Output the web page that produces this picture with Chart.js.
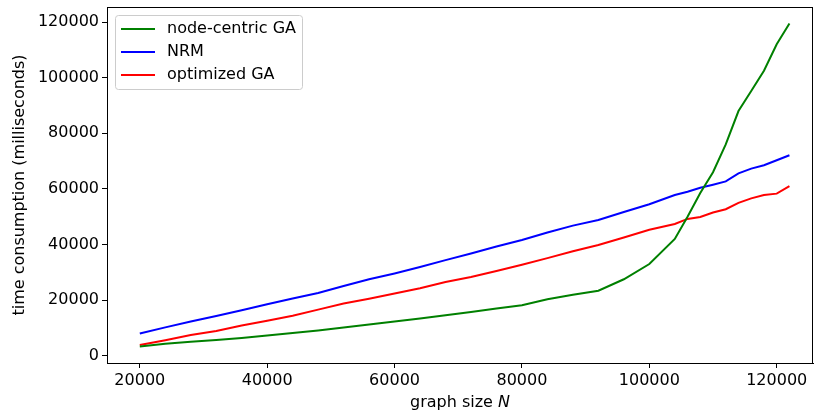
<!DOCTYPE html>
<html>
<head>
<meta charset="utf-8">
<script src="https://cdn.jsdelivr.net/npm/chart.js@4"></script>
<style>
  html, body { margin: 0; padding: 0; background: #fff; }
  #wrap { width: 814px; height: 413px; }
</style>
</head>
<body>
<div id="wrap"><canvas id="chart" width="814" height="413"></canvas></div>
<script>
// graph sizes N
const sizes = [20000, 24000, 28000, 32000, 36000, 40000, 44000, 48000, 52000, 56000,
  60000, 64000, 68000, 72000, 76000, 80000, 84000, 88000, 92000, 96000, 100000,
  104000, 106000, 108000, 110000, 112000, 114000, 116000, 118000, 120000, 122000];

const nodeCentricGA = [3300, 4300, 5000, 5700, 6400, 7300, 8200, 9100, 10200, 11200,
  12300, 13400, 14600, 15700, 17000, 18200, 20300, 21900, 23400, 27500, 33000,
  42000, 50000, 58500, 66000, 76000, 88000, 95200, 102500, 112000, 119500];

const nrm = [8000, 10200, 12300, 14300, 16400, 18500, 20600, 22600, 25100, 27500,
  29600, 31900, 34400, 36800, 39300, 41600, 44300, 46800, 48800, 51700, 54500,
  57800, 59000, 60400, 61500, 62700, 65600, 67300, 68500, 70300, 72100];

const optimizedGA = [3900, 5600, 7500, 8900, 10900, 12600, 14400, 16600, 18800, 20500,
  22400, 24300, 26500, 28300, 30500, 32700, 35100, 37600, 39800, 42500, 45300,
  47400, 49200, 49900, 51500, 52700, 55000, 56600, 57800, 58300, 61000];

const xTicks = [20000, 40000, 60000, 80000, 100000, 120000];
const yTicks = [0, 20000, 40000, 60000, 80000, 100000, 120000];

const FONT = 'DejaVu Sans';
const FS = 16;

function pts(ys) {
  return sizes.map((x, i) => ({ x: x, y: ys[i] }));
}

// top/right spines, legend box inside the plot, x title with italic N
const extras = {
  id: 'extras',
  afterDraw(chart) {
    const ctx = chart.ctx;
    const a = chart.chartArea;
    ctx.save();
    ctx.strokeStyle = '#000';
    ctx.lineWidth = 1;
    ctx.strokeRect(a.left + 0.5, a.top + 0.5, a.right - a.left - 1, a.bottom - a.top);

    // legend
    const lx = a.left + 8, ly = a.top + 8, lw = 187, lh = 74;
    ctx.fillStyle = 'rgba(255,255,255,0.8)';
    ctx.strokeStyle = '#cccccc';
    ctx.beginPath();
    ctx.roundRect(lx + 0.5, ly + 0.5, lw, lh, 3);
    ctx.fill();
    ctx.stroke();
    ctx.font = FS + 'px "' + FONT + '"';
    ctx.textBaseline = 'middle';
    chart.data.datasets.forEach((ds, i) => {
      const y = ly + 14 + i * 23;
      ctx.strokeStyle = ds.borderColor;
      ctx.lineWidth = 2;
      ctx.beginPath();
      ctx.moveTo(lx + 6, y);
      ctx.lineTo(lx + 40, y);
      ctx.stroke();
      ctx.fillStyle = '#000';
      ctx.fillText(ds.label, lx + 52, y);
    });

    // x axis title
    const t1 = 'graph size ';
    ctx.font = FS + 'px "' + FONT + '"';
    const w1 = ctx.measureText(t1).width;
    ctx.font = 'italic ' + FS + 'px "' + FONT + '"';
    const w2 = ctx.measureText('N').width;
    const cx = (a.left + a.right) / 2;
    let x0 = cx - (w1 + w2) / 2;
    ctx.fillStyle = '#000';
    ctx.textBaseline = 'middle';
    ctx.textAlign = 'left';
    ctx.font = FS + 'px "' + FONT + '"';
    ctx.fillText(t1, x0, 403);
    ctx.font = 'italic ' + FS + 'px "' + FONT + '"';
    ctx.fillText('N', x0 + w1, 403);
    ctx.restore();
  }
};

new Chart(document.getElementById('chart').getContext('2d'), {
  type: 'line',
  data: {
    datasets: [
      { label: 'node-centric GA', data: pts(nodeCentricGA), borderColor: '#008000', backgroundColor: '#008000' },
      { label: 'NRM', data: pts(nrm), borderColor: '#0000ff', backgroundColor: '#0000ff' },
      { label: 'optimized GA', data: pts(optimizedGA), borderColor: '#ff0000', backgroundColor: '#ff0000' }
    ]
  },
  options: {
    responsive: false,
    animation: false,
    layout: { padding: { left: 0, top: 7, right: 1, bottom: 0 } },
    elements: {
      point: { radius: 0, hoverRadius: 0 },
      line: { borderWidth: 2, tension: 0 }
    },
    plugins: {
      legend: { display: false },
      tooltip: { enabled: false }
    },
    scales: {
      x: {
        type: 'linear',
        min: 14850,
        max: 125700,
        afterFit: (s) => { s.height = 50; s.paddingLeft = 0; s.paddingRight = 0; },
        afterBuildTicks: (s) => { s.ticks = xTicks.map(v => ({ value: v })); },
        grid: { drawOnChartArea: false, drawTicks: true, tickLength: 5, color: '#000' },
        border: { display: true, color: '#000', width: 1 },
        ticks: {
          color: '#000', padding: 3, maxRotation: 0,
          font: { family: FONT, size: FS },
          callback: (v) => String(v)
        }
      },
      y: {
        type: 'linear',
        min: -2600,
        max: 125400,
        afterFit: (s) => { s.width = 107; s.paddingTop = 0; s.paddingBottom = 0; },
        afterBuildTicks: (s) => { s.ticks = yTicks.map(v => ({ value: v })); },
        grid: { drawOnChartArea: false, drawTicks: true, tickLength: 5, color: '#000' },
        border: { display: true, color: '#000', width: 1 },
        title: {
          display: true,
          text: 'time consumption (milliseconds)',
          color: '#000',
          font: { family: FONT, size: FS },
          padding: { top: 10, bottom: 0 }
        },
        ticks: {
          color: '#000', padding: 3,
          font: { family: FONT, size: FS },
          callback: (v) => String(v)
        }
      }
    }
  },
  plugins: [extras]
});
</script>
</body>
</html>
